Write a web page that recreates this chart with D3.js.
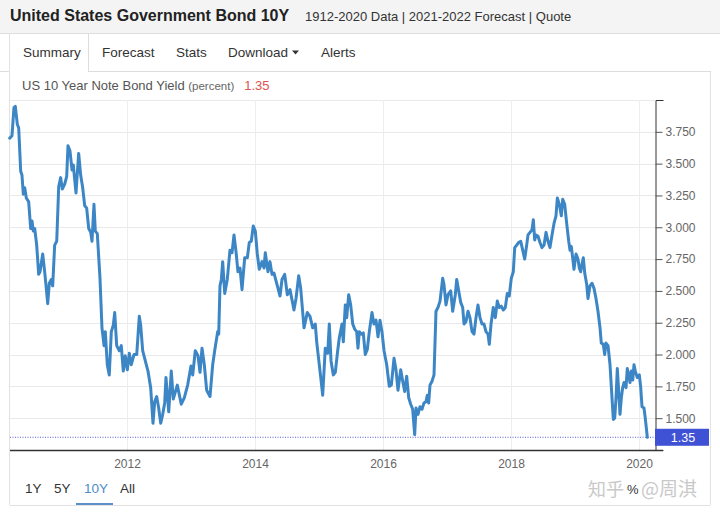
<!DOCTYPE html>
<html>
<head>
<meta charset="utf-8">
<script src="https://cdn.jsdelivr.net/npm/d3@7"></script>
<style>
  html, body { margin: 0; padding: 0; background: #fff; }
  svg { display: block; font-family: "Liberation Sans", Arial, sans-serif; }
</style>
</head>
<body>
<svg id="chart" width="720" height="514"></svg>
<script>
// ---- data (decimal year, yield %) ----
const dates = [
  2010.167,2010.203,2010.234,2010.255,2010.286,2010.308,2010.339,2010.359,2010.380,2010.402,
  2010.427,2010.464,2010.495,2010.516,2010.536,2010.558,2010.589,2010.620,2010.641,2010.683,
  2010.714,2010.739,2010.761,2010.786,2010.817,2010.839,2010.870,2010.902,2010.933,2010.964,
  2010.989,2011.027,2011.058,2011.078,2011.109,2011.141,2011.161,2011.203,2011.245,2011.276,
  2011.308,2011.339,2011.370,2011.402,2011.433,2011.453,2011.484,2011.505,2011.536,2011.578,
  2011.609,2011.641,2011.661,2011.692,2011.723,2011.755,2011.786,2011.808,2011.839,2011.880,
  2011.911,2011.942,2011.973,2012.005,2012.036,2012.067,2012.109,2012.152,2012.192,2012.214,
  2012.245,2012.286,2012.328,2012.370,2012.406,2012.433,2012.464,2012.495,2012.527,2012.558,
  2012.589,2012.609,2012.652,2012.692,2012.723,2012.786,2012.848,2012.895,2012.948,2013.000,
  2013.027,2013.067,2013.109,2013.141,2013.172,2013.208,2013.245,2013.297,2013.339,2013.370,
  2013.417,2013.433,2013.453,2013.474,2013.495,2013.527,2013.567,2013.609,2013.641,2013.672,
  2013.703,2013.734,2013.766,2013.797,2013.839,2013.880,2013.911,2013.942,2013.973,2014.005,
  2014.036,2014.067,2014.109,2014.141,2014.161,2014.203,2014.234,2014.266,2014.297,2014.339,
  2014.391,2014.422,2014.464,2014.505,2014.547,2014.609,2014.641,2014.683,2014.714,2014.766,
  2014.817,2014.859,2014.902,2014.942,2014.964,2015.027,2015.058,2015.098,2015.136,2015.161,
  2015.188,2015.224,2015.255,2015.292,2015.317,2015.359,2015.380,2015.411,2015.433,2015.464,
  2015.495,2015.527,2015.558,2015.589,2015.609,2015.630,2015.661,2015.692,2015.723,2015.755,
  2015.786,2015.828,2015.859,2015.891,2015.922,2015.953,2015.984,2016.016,2016.058,2016.098,
  2016.130,2016.172,2016.203,2016.234,2016.277,2016.308,2016.339,2016.370,2016.402,2016.433,
  2016.464,2016.495,2016.516,2016.547,2016.578,2016.609,2016.641,2016.672,2016.692,2016.714,
  2016.734,2016.766,2016.797,2016.828,2016.859,2016.891,2016.933,2016.953,2016.984,2017.016,
  2017.058,2017.089,2017.130,2017.152,2017.183,2017.214,2017.245,2017.266,2017.297,2017.328,
  2017.359,2017.391,2017.422,2017.453,2017.484,2017.516,2017.547,2017.578,2017.609,2017.641,
  2017.661,2017.688,2017.723,2017.755,2017.786,2017.817,2017.848,2017.880,2017.911,2017.942,
  2017.973,2018.005,2018.036,2018.058,2018.089,2018.120,2018.152,2018.183,2018.214,2018.245,
  2018.266,2018.297,2018.328,2018.349,2018.370,2018.391,2018.422,2018.453,2018.484,2018.516,
  2018.547,2018.578,2018.609,2018.641,2018.672,2018.703,2018.724,2018.755,2018.786,2018.808,
  2018.839,2018.870,2018.902,2018.922,2018.942,2018.964,2018.984,2019.016,2019.047,2019.067,
  2019.089,2019.109,2019.130,2019.152,2019.183,2019.203,2019.234,2019.266,2019.297,2019.328,
  2019.359,2019.391,2019.411,2019.442,2019.464,2019.484,2019.516,2019.547,2019.578,2019.599,
  2019.620,2019.641,2019.661,2019.683,2019.703,2019.724,2019.745,2019.766,2019.797,2019.817,
  2019.839,2019.859,2019.880,2019.902,2019.922,2019.942,2019.973,2020.005,2020.027,2020.047,
  2020.078,2020.098,2020.130
];
const yields = [
  3.70,3.72,3.94,3.95,3.81,3.78,3.44,3.41,3.26,3.31,
  3.23,3.20,2.99,3.05,2.97,2.99,2.86,2.63,2.65,2.79,
  2.65,2.52,2.40,2.56,2.59,2.54,2.86,2.89,3.32,3.39,
  3.30,3.34,3.40,3.64,3.60,3.45,3.49,3.27,3.58,3.41,
  3.31,3.17,3.15,2.99,2.96,2.89,3.18,2.97,2.95,2.60,
  2.21,2.07,2.18,1.92,1.84,2.18,2.23,2.33,2.07,2.03,
  2.07,1.87,1.99,1.88,2.01,1.92,2.00,2.00,2.30,2.23,
  2.03,1.95,1.87,1.74,1.46,1.63,1.67,1.58,1.46,1.53,
  1.62,1.82,1.55,1.87,1.65,1.76,1.61,1.66,1.76,1.91,
  1.84,2.03,1.99,1.86,2.05,1.92,1.72,1.67,1.92,2.03,
  2.18,2.16,2.54,2.59,2.73,2.48,2.59,2.82,2.80,2.94,
  2.81,2.65,2.68,2.51,2.76,2.76,2.88,2.89,3.01,2.97,
  2.79,2.67,2.73,2.68,2.80,2.65,2.73,2.63,2.64,2.56,
  2.46,2.59,2.63,2.47,2.51,2.35,2.44,2.62,2.52,2.21,
  2.33,2.30,2.21,2.24,2.10,1.82,1.68,2.05,2.01,2.24,
  1.95,1.84,1.86,2.03,2.13,2.24,2.10,2.39,2.29,2.47,
  2.39,2.24,2.20,2.18,2.05,2.18,2.16,2.17,2.00,2.04,
  2.18,2.33,2.24,2.27,2.14,2.27,2.18,2.03,1.92,1.75,
  1.76,1.97,1.88,1.72,1.88,1.79,1.71,1.83,1.66,1.61,
  1.57,1.37,1.58,1.53,1.59,1.57,1.62,1.63,1.68,1.62,
  1.76,1.79,1.84,2.34,2.37,2.42,2.60,2.55,2.39,2.47,
  2.50,2.34,2.47,2.59,2.50,2.41,2.37,2.24,2.26,2.34,
  2.29,2.18,2.16,2.29,2.39,2.29,2.24,2.24,2.18,2.16,
  2.08,2.24,2.37,2.29,2.42,2.37,2.38,2.35,2.37,2.48,
  2.46,2.60,2.65,2.84,2.86,2.88,2.89,2.82,2.75,2.86,
  2.94,2.96,2.98,3.06,2.90,2.94,2.93,2.88,2.84,2.86,
  2.96,2.89,2.84,2.94,3.03,3.09,3.23,3.18,3.09,3.22,
  3.18,3.03,2.89,2.82,2.85,2.76,2.67,2.79,2.75,2.68,
  2.65,2.71,2.76,2.64,2.55,2.44,2.54,2.56,2.52,2.44,
  2.34,2.21,2.09,2.08,2.00,2.09,2.07,1.92,1.66,1.49,
  1.50,1.66,1.89,1.71,1.53,1.66,1.74,1.78,1.74,1.89,
  1.84,1.78,1.87,1.80,1.92,1.87,1.82,1.84,1.74,1.59,
  1.58,1.50,1.35
];
const yTicks = [1.5, 1.75, 2.0, 2.25, 2.5, 2.75, 3.0, 3.25, 3.5, 3.75];
const xTicks = [2012, 2014, 2016, 2018, 2020];
const xDomain = [2010.172, 2020.25];
const yDomain = [1.25, 4.0];
const lastValue = 1.35;
const tabs = ["Summary", "Forecast", "Stats", "Download", "Alerts"];
const ranges = ["1Y", "5Y", "10Y", "All"];

const data = dates.map((d, i) => ({ t: d, v: yields[i] }));

const svg = d3.select("#chart");
const FONT = "'Liberation Sans', Arial, sans-serif";

// ---- page chrome ----
svg.append("rect").attr("x", 0).attr("y", 0).attr("width", 720).attr("height", 33).attr("fill", "#f4f4f4");
svg.append("line").attr("x1", 0).attr("x2", 720).attr("y1", 33.5).attr("y2", 33.5).attr("stroke", "#dedede");
svg.append("text").attr("x", 10).attr("y", 21).attr("font-size", 16).attr("font-weight", "bold")
  .attr("fill", "#222").text("United States Government Bond 10Y");
svg.append("text").attr("x", 305).attr("y", 20.5).attr("font-size", 13).attr("fill", "#333")
  .text("1912-2020 Data | 2021-2022 Forecast | Quote");

// panel borders
svg.append("line").attr("x1", 9.5).attr("x2", 9.5).attr("y1", 34).attr("y2", 505).attr("stroke", "#e2e2e2");
svg.append("line").attr("x1", 710.5).attr("x2", 710.5).attr("y1", 71).attr("y2", 505).attr("stroke", "#e2e2e2");
svg.append("line").attr("x1", 9.5).attr("x2", 710.5).attr("y1", 505.5).attr("y2", 505.5).attr("stroke", "#e2e2e2");
// tab bar bottom
svg.append("line").attr("x1", 0).attr("x2", 9).attr("y1", 71.5).attr("y2", 71.5).attr("stroke", "#dddddd");
svg.append("line").attr("x1", 88).attr("x2", 711).attr("y1", 71.5).attr("y2", 71.5).attr("stroke", "#dddddd");
svg.append("line").attr("x1", 88.5).attr("x2", 88.5).attr("y1", 34).attr("y2", 72).attr("stroke", "#dddddd");

const tabX = [23, 102, 176, 228, 321];
tabs.forEach((t, i) => {
  svg.append("text").attr("x", tabX[i]).attr("y", 56.5).attr("font-size", 13.5).attr("fill", "#333").text(t);
});
svg.append("path").attr("d", "M292,50.5 L299,50.5 L295.5,54.5 Z").attr("fill", "#333");

const tt = svg.append("text").attr("x", 22).attr("y", 90).attr("font-size", 13).attr("fill", "#555");
tt.append("tspan").text("US 10 Year Note Bond Yield ");
tt.append("tspan").attr("font-size", 11.5).attr("fill", "#666").text("(percent)");
tt.append("tspan").attr("dx", 10).attr("fill", "#e0524f").text(d3.format(".2f")(lastValue));

// ---- chart ----
const L = 10, R = 655, T = 100, B = 450;
const x = d3.scaleLinear().domain(xDomain).range([L, R]);
const y = d3.scaleLinear().domain(yDomain).range([B, T]);

// grid
const g = svg.append("g");
g.selectAll(".hg").data(yTicks.concat([yDomain[1]])).enter().append("line")
  .attr("x1", L).attr("x2", R)
  .attr("y1", d => Math.round(y(d)) + 0.5).attr("y2", d => Math.round(y(d)) + 0.5)
  .attr("stroke", "#e9e9e9");
g.selectAll(".vg").data(xTicks).enter().append("line")
  .attr("x1", d => Math.round(x(d)) + 0.5).attr("x2", d => Math.round(x(d)) + 0.5)
  .attr("y1", T).attr("y2", B)
  .attr("stroke", "#ededed");

// dotted last-value line
svg.append("line").attr("x1", L).attr("x2", R)
  .attr("y1", y(lastValue)).attr("y2", y(lastValue))
  .attr("stroke", "#5a5fd0").attr("stroke-width", 1).attr("stroke-dasharray", "1,1.5");

// series line
const line = d3.line().x(d => x(d.t)).y(d => y(d.v)).curve(d3.curveLinear);
svg.append("path").datum(data).attr("d", line)
  .attr("fill", "none").attr("stroke", "#3d86c6").attr("stroke-width", 3)
  .attr("stroke-linejoin", "round").attr("stroke-linecap", "round");

// y axis (right)
const yAxis = d3.axisRight(y).tickValues(yTicks).tickFormat(d3.format(".3f")).tickSize(7).tickPadding(3).tickSizeOuter(8);
const ya = svg.append("g").attr("transform", `translate(${R + 0.5},0)`).call(yAxis);
ya.select(".domain").attr("stroke", "#333");
ya.selectAll(".tick line").attr("stroke", "#555");
ya.selectAll("text").attr("fill", "#666").attr("font-size", 12).attr("font-family", FONT);

// x axis
const xAxis = d3.axisBottom(x).tickValues(xTicks).tickFormat(d3.format("d")).tickSize(0).tickPadding(9);
const xa = svg.append("g").attr("transform", `translate(0,${B + 0.5})`).call(xAxis);
xa.select(".domain").remove();
xa.append("line").attr("x1", L).attr("x2", R + 8).attr("y1", 0).attr("y2", 0).attr("stroke", "#333").attr("stroke-width", 1.5);
xa.selectAll("text").attr("fill", "#666").attr("font-size", 12).attr("font-family", FONT);

// last value label
svg.append("rect").attr("x", R).attr("y", y(lastValue) - 8.5).attr("width", 54).attr("height", 17).attr("fill", "#3f51d4");
svg.append("text").attr("x", R + 28).attr("y", y(lastValue) + 4.5).attr("text-anchor", "middle")
  .attr("font-size", 12.5).attr("fill", "#fff").text(d3.format(".2f")(lastValue));

// range buttons
const rx = [25, 54, 84, 120];
ranges.forEach((r, i) => {
  svg.append("text").attr("x", rx[i]).attr("y", 493).attr("font-size", 13.5)
    .attr("fill", r === "10Y" ? "#4f8cc9" : "#333").text(r);
});
svg.append("line").attr("x1", 76).attr("x2", 113).attr("y1", 504).attr("y2", 504).attr("stroke", "#5b90c8").attr("stroke-width", 2);

// watermark (split so the underlying "%" sits in the gap)
const wm = { "font-family": "'Noto Sans CJK SC', sans-serif", fill: "#c9c9c9" };
svg.append("text").attr("x", 588).attr("y", 496).attr("font-size", 18)
  .attr("font-family", wm["font-family"]).attr("fill", wm.fill).text("知乎");
svg.append("text").attr("x", 627).attr("y", 494).attr("font-size", 13).attr("fill", "#333").text("%");
svg.append("text").attr("x", 641).attr("y", 496).attr("font-size", 19)
  .attr("font-family", wm["font-family"]).attr("fill", wm.fill).text("@周淇");
</script>
</body>
</html>
